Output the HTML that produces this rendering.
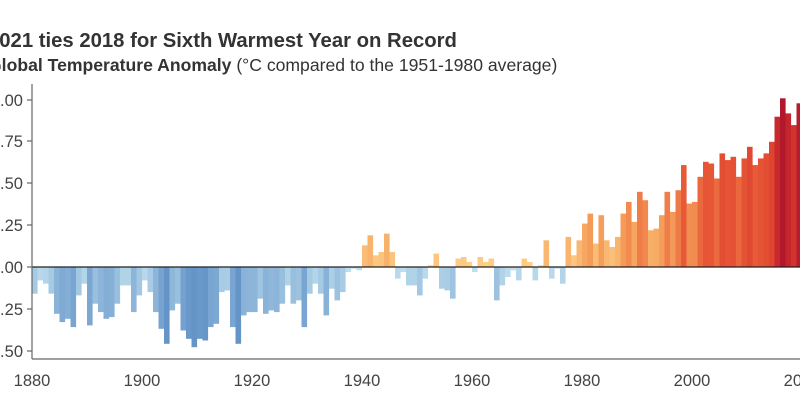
<!DOCTYPE html>
<html><head><meta charset="utf-8"><style>
html,body{margin:0;padding:0;background:#fff;width:800px;height:411px;overflow:hidden}
svg{display:block;font-family:"Liberation Sans",sans-serif}
</style></head><body>
<svg id="c" width="800" height="411" xmlns="http://www.w3.org/2000/svg">
<text x="-12" y="47" font-size="20.3" font-weight="bold" fill="#333">2021 ties 2018 for Sixth Warmest Year on Record</text>
<text x="-12" y="71" font-size="17.6" fill="#333"><tspan font-weight="bold">Global Temperature Anomaly</tspan> (°C compared to the 1951-1980 average)</text>
<g id="bars"></g>
<line x1="32" y1="267" x2="800" y2="267" stroke="#222" stroke-width="1.2"/>
<line x1="32" y1="84" x2="32" y2="359" stroke="#666" stroke-width="1.2"/>
<line x1="32" y1="359" x2="800" y2="359" stroke="#666" stroke-width="1.2"/>
<g stroke="#666" stroke-width="1.2">
<line x1="27" y1="100" x2="32" y2="100"/><line x1="27" y1="141" x2="32" y2="141"/><line x1="27" y1="183" x2="32" y2="183"/><line x1="27" y1="225" x2="32" y2="225"/><line x1="27" y1="267" x2="32" y2="267"/><line x1="27" y1="309" x2="32" y2="309"/><line x1="27" y1="351" x2="32" y2="351"/>
</g>
<g font-size="16.5" fill="#444" text-anchor="end">
<text x="23" y="106">1.00</text><text x="23" y="147">0.75</text><text x="23" y="189">0.50</text><text x="23" y="231">0.25</text><text x="23" y="273">0.00</text><text x="23" y="315">-0.25</text><text x="23" y="357">-0.50</text>
</g>
<g font-size="16.5" fill="#444" text-anchor="middle">
<text x="32" y="386">1880</text><text x="142" y="386">1900</text><text x="252" y="386">1920</text><text x="362" y="386">1940</text><text x="472" y="386">1960</text><text x="582" y="386">1980</text><text x="692" y="386">2000</text><text x="802" y="386">2020</text>
</g>
</svg>
<script>
var d=[-0.16,-0.08,-0.10,-0.16,-0.28,-0.33,-0.31,-0.36,-0.17,-0.10,-0.35,-0.22,-0.27,-0.31,-0.30,-0.22,-0.11,-0.11,-0.27,-0.17,-0.08,-0.15,-0.27,-0.37,-0.46,-0.26,-0.22,-0.38,-0.43,-0.48,-0.43,-0.44,-0.36,-0.34,-0.15,-0.14,-0.36,-0.46,-0.29,-0.27,-0.27,-0.19,-0.28,-0.26,-0.27,-0.22,-0.11,-0.22,-0.20,-0.36,-0.16,-0.10,-0.16,-0.29,-0.13,-0.20,-0.15,-0.03,-0.01,-0.02,0.13,0.19,0.07,0.09,0.20,0.09,-0.07,-0.03,-0.11,-0.11,-0.17,-0.07,0.01,0.08,-0.13,-0.14,-0.19,0.05,0.06,0.03,-0.03,0.06,0.03,0.05,-0.20,-0.11,-0.06,-0.02,-0.08,0.05,0.03,-0.08,0.01,0.16,-0.07,-0.01,-0.10,0.18,0.07,0.16,0.26,0.32,0.14,0.31,0.16,0.12,0.18,0.32,0.39,0.27,0.45,0.40,0.22,0.23,0.31,0.45,0.33,0.46,0.61,0.38,0.39,0.54,0.63,0.62,0.53,0.68,0.64,0.66,0.54,0.65,0.72,0.61,0.65,0.68,0.75,0.90,1.01,0.92,0.85,0.98,1.02,0.85];
function mix(a,b,t){t=Math.max(0,Math.min(1,t));return 'rgb('+a.map(function(v,i){return Math.round(v+(b[i]-v)*t)}).join(',')+')'}
function col(v){
 if(v<0){return mix([190,222,238],[100,148,200],(-v-0.05)/0.4)}
 var s=[[0,[254,212,140]],[0.3,[245,160,90]],[0.6,[232,90,55]],[0.8,[220,60,45]],[1.0,[178,24,43]]];
 for(var i=0;i<s.length-1;i++){if(v<=s[i+1][0])return mix(s[i][1],s[i+1][1],(v-s[i][0])/(s[i+1][0]-s[i][0]))}
 return 'rgb(178,24,43)'}
var h='';
d.forEach(function(v,i){var x=32+5.5*i,y=267-v*167,hh=Math.abs(v*167);
 h+='<rect x="'+x.toFixed(1)+'" y="'+(v>0?y:267).toFixed(1)+'" width="5.6" height="'+hh.toFixed(1)+'" fill="'+col(v)+'"/>';});
document.getElementById('bars').innerHTML=h;
</script>
</body></html>
